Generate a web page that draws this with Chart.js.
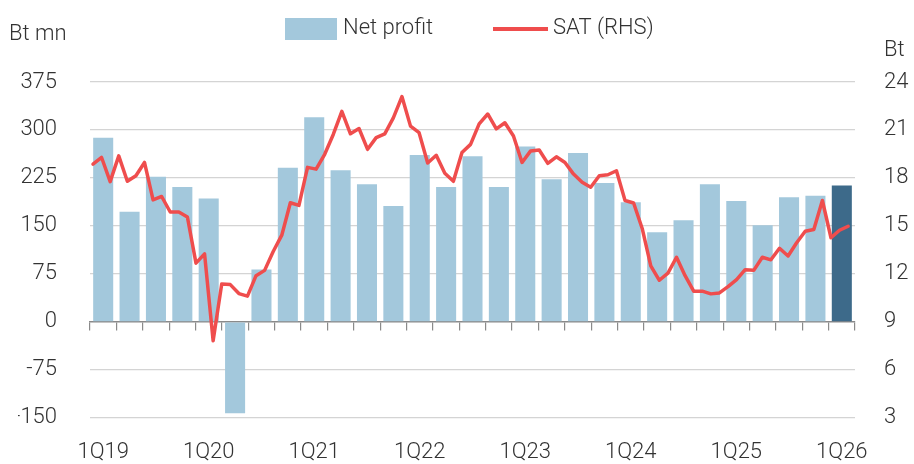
<!DOCTYPE html>
<html>
<head>
<meta charset="utf-8">
<script src="https://cdn.jsdelivr.net/npm/chart.js@4/dist/chart.umd.min.js"></script>
<style>
  html, body { margin: 0; padding: 0; background: #ffffff; }
  #wrap { position: relative; width: 914px; height: 464px; }
</style>
</head>
<body>
<div id="wrap"><canvas id="c" width="914" height="464"></canvas></div>
<script>
// ---------------- DATA ----------------
const quarters = ['1Q19','2Q19','3Q19','4Q19','1Q20','2Q20','3Q20','4Q20',
                  '1Q21','2Q21','3Q21','4Q21','1Q22','2Q22','3Q22','4Q22',
                  '1Q23','2Q23','3Q23','4Q23','1Q24','2Q24','3Q24','4Q24',
                  '1Q25','2Q25','3Q25','4Q25','1Q26'];

// Net profit (Bt mn), quarterly
const netProfit = [288, 172, 227, 211, 193, -143, 82, 241,
                   320, 237, 215, 181, 261, 211, 259, 211,
                   274, 223, 264, 217, 187, 140, 159, 215,
                   189, 151, 195, 197, 213];

// SAT share price (Bt), monthly
const satPrice = [18.86, 19.28, 17.77, 19.38, 17.79, 18.14, 18.97, 16.63, 16.84, 15.87, 15.87, 15.56, 12.67, 13.25, 7.82,
                  11.37, 11.33, 10.77, 10.61, 11.89, 12.22, 13.40, 14.42, 16.45, 16.28, 18.66, 18.55, 19.48, 20.72, 22.16,
                  20.76, 21.09, 19.79, 20.52, 20.76, 21.76, 23.09, 21.24, 20.83, 18.93, 19.42, 18.29, 17.79, 19.59, 20.10,
                  21.38, 22.00, 21.07, 21.45, 20.62, 18.97, 19.69, 19.75, 18.91, 19.32, 18.97, 18.24, 17.73, 17.42, 18.14,
                  18.20, 18.45, 16.59, 16.43, 14.84, 12.50, 11.60, 12.05, 13.04, 11.89, 10.92, 10.92, 10.75, 10.81, 11.20,
                  11.64, 12.26, 12.22, 13.04, 12.88, 13.60, 13.12, 13.95, 14.67, 14.78, 16.59, 14.26, 14.73, 14.98];

const leftTicks  = [-150, -75, 0, 75, 150, 225, 300, 375];
const rightTicks = [3, 6, 9, 12, 15, 18, 21, 24];
const xLabelEvery = 4;

// ---------------- STYLE ----------------
const FONT = { family: 'Roboto, "Liberation Sans", Arial, sans-serif', size: 22, weight: '300' };
const TEXT = '#333333';
const BAR_LIGHT = '#a3c8dc';
const BAR_DARK = '#3d6a8a';
const RED = '#ef4d4d';
const GRID = '#d4d4d4';
const AXIS = '#8a8a8a';

const barColors = netProfit.map((v, i) => i === netProfit.length - 1 ? BAR_DARK : BAR_LIGHT);
const linePoints = satPrice.map((v, i) => ({ x: i, y: v }));

const extrasPlugin = {
  id: 'extras',
  afterDraw(chart) {
    const ctx = chart.ctx;
    const ca = chart.chartArea;
    ctx.save();
    ctx.font = `${FONT.weight} ${FONT.size}px ${FONT.family}`;
    ctx.fillStyle = TEXT;
    ctx.textBaseline = 'middle';
    // axis titles
    ctx.textAlign = 'left';
    ctx.fillText('Bt mn', 9, 34);
    ctx.fillText('Bt', ca.right + 29, 50);
    // legend
    const ly = 29;
    const lx = 285;
    ctx.fillStyle = BAR_LIGHT;
    ctx.fillRect(lx, ly - 11, 52, 22);
    ctx.fillStyle = TEXT;
    ctx.fillText('Net profit', lx + 58, ly - 1);
    ctx.strokeStyle = RED;
    ctx.lineWidth = 4;
    ctx.beginPath();
    ctx.moveTo(lx + 208, ly);
    ctx.lineTo(lx + 263, ly);
    ctx.stroke();
    ctx.fillText('SAT (RHS)', lx + 268, ly - 1);
    ctx.restore();
  }
};

new Chart(document.getElementById('c'), {
  data: {
    labels: quarters,
    datasets: [
      {
        type: 'line',
        label: 'SAT (RHS)',
        data: linePoints,
        xAxisID: 'xl',
        yAxisID: 'y2',
        borderColor: RED,
        borderWidth: 3.5,
        pointRadius: 0,
        tension: 0,
        borderJoinStyle: 'round',
        borderCapStyle: 'round',
        order: 0
      },
      {
        type: 'bar',
        label: 'Net profit',
        data: netProfit,
        xAxisID: 'x',
        yAxisID: 'y',
        backgroundColor: barColors,
        borderWidth: 0,
        grouped: false,
        barPercentage: 0.76,
        categoryPercentage: 1.0,
        order: 1
      }
    ]
  },
  options: {
    responsive: false,
    animation: false,
    devicePixelRatio: 1,
    layout: { padding: { top: 82, left: 18, right: 0, bottom: 0 } },
    plugins: {
      legend: { display: false },
      tooltip: { enabled: false }
    },
    scales: {
      x: {
        type: 'category',
        position: 'bottom',
        offset: true,
        grid: { display: false, drawTicks: false },
        border: { display: false },
        ticks: {
          autoSkip: false,
          maxRotation: 0,
          padding: 21,
          color: TEXT,
          font: FONT,
          callback: function (v, i) { return i % xLabelEvery === 0 ? this.getLabelForValue(v) : ''; }
        },
        afterFit: s => { s.height = 43; }
      },
      xz: {
        type: 'category',
        axis: 'x',
        position: { y: 0 },
        offset: true,
        grid: { display: true, offset: true, drawOnChartArea: false, drawTicks: true, tickLength: 8, color: AXIS, lineWidth: 1.2 },
        border: { display: true, color: AXIS, width: 1.5 },
        ticks: { display: false, autoSkip: false }
      },
      xl: {
        type: 'linear',
        display: false,
        min: -0.35,
        max: satPrice.length - 1 + 0.8
      },
      y: {
        position: 'left',
        min: leftTicks[0],
        max: leftTicks[leftTicks.length - 1],
        ticks: {
          stepSize: leftTicks[1] - leftTicks[0],
          padding: 33,
          color: TEXT,
          font: FONT
        },
        grid: {
          drawTicks: false,
          color: c => (c.tick && c.tick.value === 0) ? 'rgba(0,0,0,0)' : GRID,
          lineWidth: 1.3
        },
        border: { display: false },
        afterFit: s => { s.width = 72; }
      },
      y2: {
        position: 'right',
        min: rightTicks[0],
        max: rightTicks[rightTicks.length - 1],
        ticks: {
          stepSize: rightTicks[1] - rightTicks[0],
          padding: 29,
          color: TEXT,
          font: FONT
        },
        grid: { drawOnChartArea: false, drawTicks: false },
        border: { display: false },
        afterFit: s => { s.width = 59; }
      }
    }
  },
  plugins: [extrasPlugin]
});
</script>
</body>
</html>
